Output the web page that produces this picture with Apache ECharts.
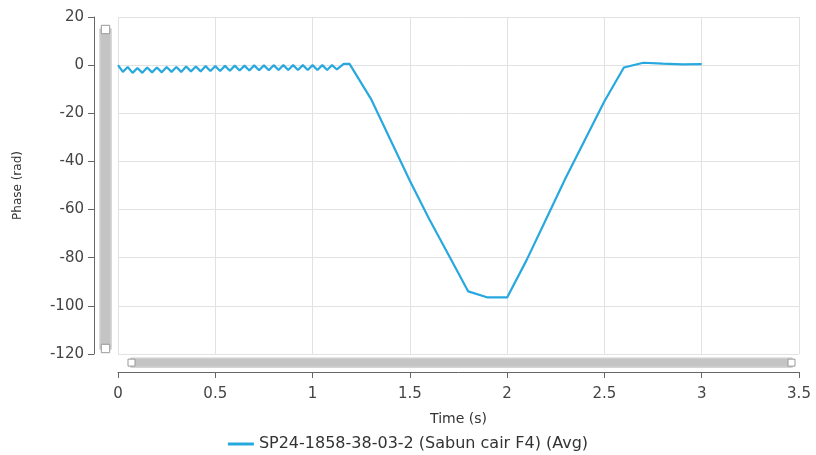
<!DOCTYPE html>
<html>
<head>
<meta charset="utf-8">
<style>
  html, body { margin: 0; padding: 0; background: #fff; }
  #chart { width: 816px; height: 455px; }
</style>
<script src="https://cdn.jsdelivr.net/npm/echarts@6/dist/echarts.min.js"></script>
</head>
<body>
<div id="chart"></div>
<script>
// time (s) and phase (rad)
const times = [
  0, 0.025, 0.05, 0.075, 0.1, 0.125, 0.15, 0.175, 0.2, 0.225,
  0.25, 0.275, 0.3, 0.325, 0.35, 0.375, 0.4, 0.425, 0.45, 0.475,
  0.5, 0.525, 0.55, 0.575, 0.6, 0.625, 0.65, 0.675, 0.7, 0.725,
  0.75, 0.775, 0.8, 0.825, 0.85, 0.875, 0.9, 0.925, 0.95, 0.975,
  1.0, 1.025, 1.05, 1.075, 1.1, 1.125, 1.16, 1.19,
  1.3, 1.4, 1.5, 1.6, 1.7, 1.8, 1.9, 2.0,
  2.1, 2.2, 2.3, 2.4, 2.5, 2.6, 2.7, 2.8, 2.9, 3.0
];
const phase = [
  0, -2.8, -0.8, -3.2, -1.2, -3.2, -1.0, -3.0, -1.0, -3.0,
  -0.8, -2.8, -0.8, -2.8, -0.6, -2.6, -0.6, -2.6, -0.4, -2.4,
  -0.4, -2.4, -0.3, -2.3, -0.2, -2.2, -0.2, -2.2, -0.1, -2.1,
  -0.1, -2.1, 0, -2.0, 0, -2.0, 0, -2.0, 0, -2.0,
  0, -2.0, 0, -2.0, 0, -1.8, 0.5, 0.5,
  -14, -31, -48, -64, -79, -94, -96.5, -96.5,
  -81, -64, -47, -31, -15, -1, 1, 0.6, 0.3, 0.4
];
const seriesName = 'SP24-1858-38-03-2 (Sabun cair F4) (Avg)';

const chart = echarts.init(document.getElementById('chart'));

const sliderCommon = {
  type: 'slider',
  filterMode: 'none',
  start: 0,
  end: 100,
  showDetail: false,
  brushSelect: false,
  moveHandleSize: 0,
  backgroundColor: '#ececec',
  borderColor: '#d8d8d8',
  fillerColor: '#c4c4c4',
  dataBackground: { lineStyle: { opacity: 0 }, areaStyle: { opacity: 0 } },
  selectedDataBackground: { lineStyle: { opacity: 0 }, areaStyle: { opacity: 0 } },
  handleIcon: 'path://M0,0 L10,0 L10,10 L0,10 Z',
  handleSize: '70%',
  handleStyle: { color: '#fff', borderColor: '#999', borderWidth: 1 }
};

chart.setOption({
  animation: false,
  textStyle: { fontFamily: 'DejaVu Sans, sans-serif' },
  grid: { left: 118, right: 17, top: 17, bottom: 101 },
  legend: {
    top: 431,
    left: 'center',
    icon: 'rect',
    itemWidth: 26,
    itemHeight: 3,
    itemGap: 4,
    textStyle: { fontSize: 16, color: '#333' },
    data: [seriesName]
  },
  xAxis: {
    type: 'value',
    min: 0,
    max: 3.5,
    interval: 0.5,
    offset: 18,
    name: 'Time (s)',
    nameLocation: 'middle',
    nameGap: 40,
    nameTextStyle: { fontSize: 14, color: '#333' },
    axisLine: { show: true, onZero: false, lineStyle: { color: '#666' } },
    axisTick: { show: true, length: 6, lineStyle: { color: '#666' } },
    axisLabel: { fontSize: 15, color: '#444', margin: 15 },
    splitLine: { show: true, lineStyle: { color: '#e2e2e2' } }
  },
  yAxis: {
    type: 'value',
    min: -120,
    max: 20,
    interval: 20,
    offset: 24,
    name: 'Phase (rad)',
    nameLocation: 'middle',
    nameGap: 70,
    nameRotate: 90,
    nameTextStyle: { fontSize: 12, color: '#333' },
    axisLine: { show: true, onZero: false, lineStyle: { color: '#666' } },
    axisTick: { show: true, length: 6, lineStyle: { color: '#666' } },
    axisLabel: { fontSize: 15, color: '#444', margin: 10 },
    splitLine: { show: true, lineStyle: { color: '#e2e2e2' } }
  },
  dataZoom: [
    Object.assign({}, sliderCommon, {
      xAxisIndex: 0,
      orient: 'horizontal',
      left: 128,
      right: 26,
      bottom: 88,
      height: 10
    }),
    Object.assign({}, sliderCommon, {
      yAxisIndex: 0,
      orient: 'vertical',
      left: 99,
      width: 12,
      top: 26,
      bottom: 108
    })
  ],
  series: [{
    name: seriesName,
    type: 'line',
    showSymbol: false,
    data: times.map((t, i) => [t, phase[i]]),
    lineStyle: { color: '#27a8df', width: 2.2 },
    itemStyle: { color: '#27a8df' }
  }]
});
</script>
</body>
</html>
